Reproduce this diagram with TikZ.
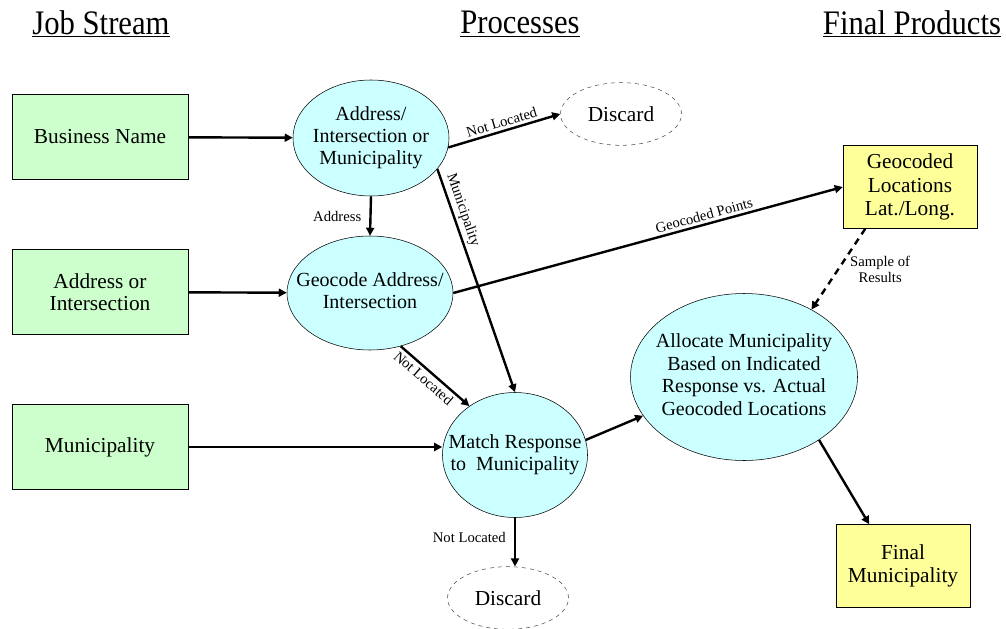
\documentclass[tikz,border=0pt]{standalone}
\usepackage{fontspec}
\setmainfont{Liberation Serif}
\usetikzlibrary{shapes.geometric, arrows.meta, positioning}
\definecolor{jobgreen}{RGB}{204,255,204}
\definecolor{proccyan}{RGB}{204,255,255}
\definecolor{prodyellow}{RGB}{255,255,153}
\newcommand{\ovaltext}[1]{\makebox[0pt]{\begin{tabular}{@{}c@{}}#1\end{tabular}}}

\begin{document}
\begin{tikzpicture}[
    x=0.75pt, y=-0.75pt,
    % Node styles
    heading/.style={font=\fontsize{23}{25}\selectfont},
    job/.style={rectangle, draw=black, fill=jobgreen, minimum width=132pt, minimum height=63.75pt, align=center, font=\fontsize{16}{16.5}\selectfont},
    proc/.style={ellipse, draw=black, fill=proccyan, inner sep=0pt, font=\fontsize{15}{16.8}\selectfont},
    product/.style={rectangle, draw=black, fill=prodyellow, minimum width=100.5pt, minimum height=62.25pt, align=center, font=\fontsize{16}{17.5}\selectfont},
    discard/.style={ellipse, draw=black!70, dashed, minimum width=90.75pt, minimum height=47pt, font=\fontsize{16}{17}\selectfont},
    arrow/.style={-{Triangle[length=6pt,width=6pt]}, line width=1.8pt},
    lbl/.style={font=\fontsize{11}{12}\selectfont, inner sep=2pt}
]
\useasboundingbox (0,0) rectangle (1006,628);

% Headings
\node[heading] (hjob) at (101,24) {\scalebox{1}[1.12]{\underline{Job Stream}}};
\node[heading] (hproc) at (520,24) {\scalebox{1}[1.12]{\underline{Processes}}};
\node[heading] (hprod) at (912,24) {\scalebox{1}[1.12]{\underline{Final Products}}};

% Job stream
\node[job] (bizname) at (100,137) {Business Name};
\node[job] (addrint) at (100,292) {Address or\\Intersection};
\node[job] (muni) at (100,447) {Municipality};

% Processes
\node[proc, minimum width=117pt, minimum height=87pt] (locate) at (371,138) {\ovaltext{Address/\\Intersection or\\Municipality}};
\node[discard] (discardtop) at (621,114) {Discard};
\node[proc, minimum width=124.5pt, minimum height=85.5pt] (geocode) at (370,293) {\ovaltext{Geocode Address/\\Intersection}};
\node[proc, minimum width=108.75pt, minimum height=93.75pt] (match) at (515,455) {\ovaltext{Match Response\\to~~Municipality}};
\node[discard] (discardbot) at (508,598) {Discard};
\node[proc, minimum width=170.25pt, minimum height=125.25pt] (allocate) at (744,377) {\ovaltext{Allocate Municipality\\Based on Indicated\\Response vs. Actual\\Geocoded Locations}};

% Final products
\node[product] (geopts) at (910,187) {Geocoded\\Locations\\Lat./Long.};
\node[product] (finalmuni) at (903,566) {Final\\Municipality};

% Inputs
\draw[arrow] (bizname) -- (locate);
\draw[arrow] (addrint) -- (geocode);
\draw[arrow] (muni) -- (match.west |- muni);

% Process flow
\draw[arrow] (locate.-7) -- (discardtop.west) node[midway, above, sloped, lbl] {Not Located};
\draw[arrow] (locate.south) -- (geocode.north) node[midway, left=4pt, lbl] {Address};
\draw[arrow] (locate.-25) -- (match.north) node[pos=0.2, above, sloped, lbl] {Municipality};
\draw[arrow] (geocode.east) -- (geopts.west) node[pos=0.65, above, sloped, lbl] {Geocoded Points};
\draw[arrow] (geocode.-60) -- (match.133) node[pos=0.42, below, sloped, lbl] {Not Located};
\draw[arrow] (match.12) -- (allocate.201);
\draw[arrow, dashed, dash pattern=on 5pt off 4pt] (geopts.-137) -- (allocate.45) node[midway, right=6pt, lbl, align=center] {Sample of\\Results};
\draw[arrow] (allocate.-40) -- (finalmuni.129);
\draw[arrow] (match.south) -- (match.south |- discardbot.north) node[pos=0.4, left=4pt, lbl] {Not Located};

\end{tikzpicture}
\end{document}
